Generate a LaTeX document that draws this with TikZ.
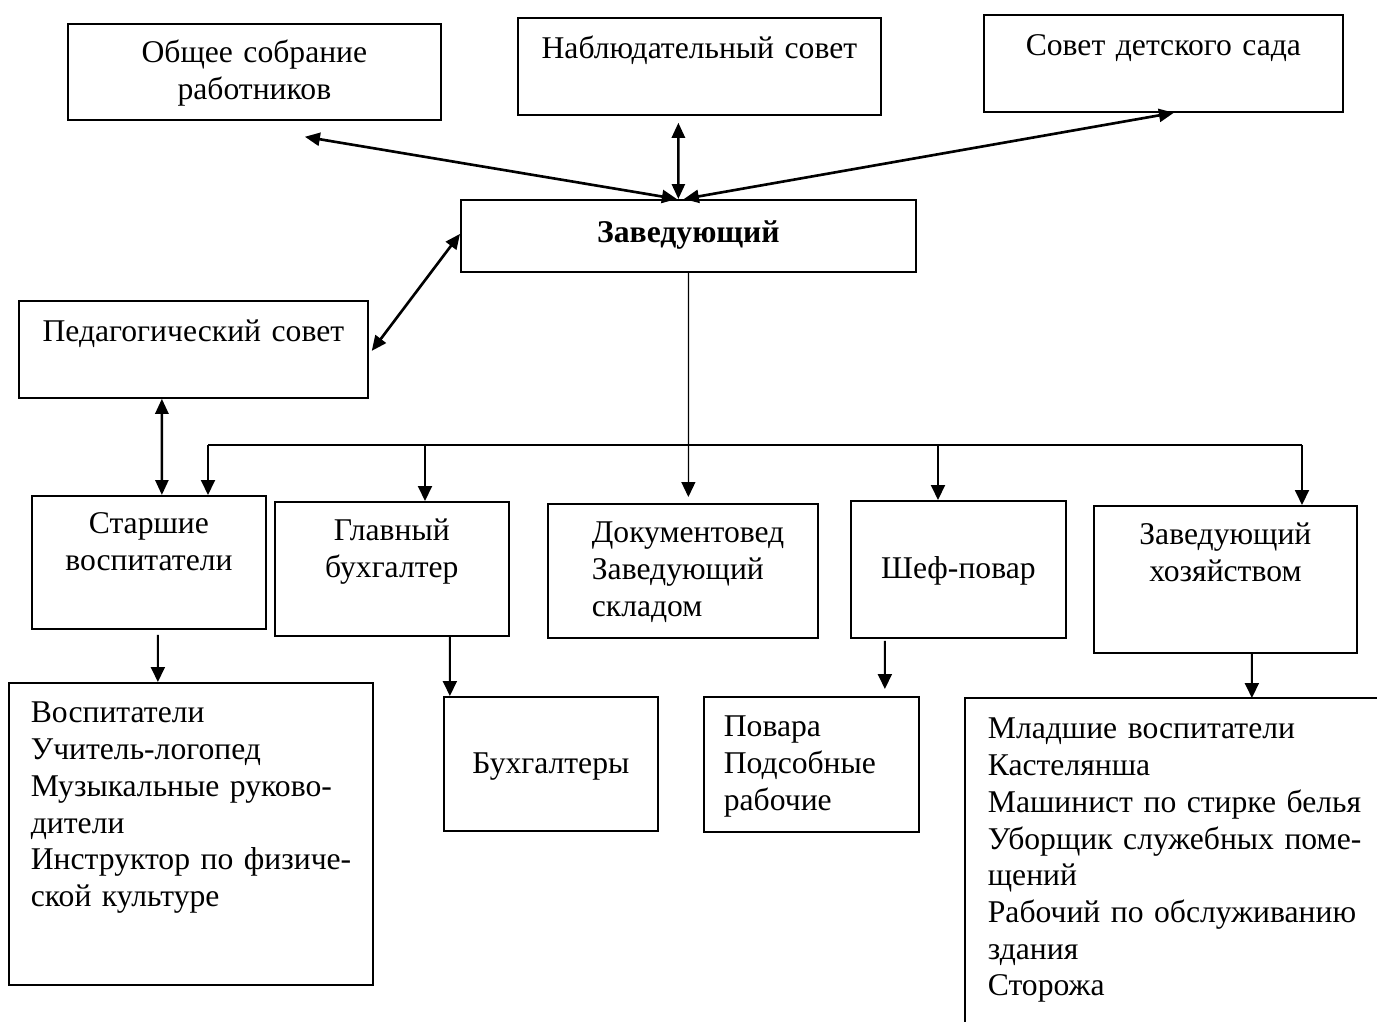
\documentclass[tikz,border=0pt]{standalone}
\usepackage{fontspec}
\setmainfont{Liberation Serif}
\usepackage{tikz}
\usetikzlibrary{arrows.meta}

\tikzset{
  blk/.style={draw, line width=1pt, inner sep=0pt, anchor=north west, align=center},
  lblk/.style={blk, align=left, inner ysep=0pt},
  arr/.style={-{Triangle[length=0.3cm,width=0.28cm]}, line width=1.1pt},
  dbl/.style={{Triangle[length=0.3cm,width=0.26cm]}-{Triangle[length=0.3cm,width=0.26cm]}, line width=1.5pt}
}

\begin{document}
\begin{tikzpicture}[font=\fontsize{18}{20.9}\selectfont]
\useasboundingbox (0,0) rectangle (27.54,-20.44);
% top row
\node[blk, text width=7.46cm, text height=0.78cm, text depth=1.14cm] (sobranie) at (1.34,-0.46) {Общее собрание\\работников};
\node[blk, text width=7.26cm, text height=0.82cm, text depth=1.12cm] (nablud) at (10.34,-0.34) {Наблюдательный совет};
\node[blk, text width=7.18cm, text height=0.82cm, text depth=1.12cm] (sovet) at (19.66,-0.28) {Совет детского сада};
\node[blk, text width=9.10cm, text height=0.86cm, text depth=0.58cm, font=\fontsize{18}{20.9}\selectfont\bfseries] (zav) at (9.20,-3.98) {Заведующий};
\node[blk, text width=6.98cm, text height=0.82cm, text depth=1.12cm] (pedsovet) at (0.36,-6.00) {Педагогический совет};
% middle row
\node[blk, text width=4.68cm, text height=0.76cm, text depth=1.90cm] (starshie) at (0.62,-9.90) {Старшие\\воспитатели};
\node[blk, text width=4.68cm, text height=0.78cm, text depth=1.90cm] (glbuh) at (5.48,-10.02) {Главный\\бухгалтер};
\node[lblk, inner xsep=0.88cm, text width=3.64cm, text height=0.78cm, text depth=1.90cm] (dokument) at (10.94,-10.06) {Документовед\\Заведующий\\складом};
\node[blk, text width=4.30cm, text height=1.56cm, text depth=1.18cm] (shef) at (17.00,-10.00) {Шеф-повар};
\node[blk, text width=5.26cm, text height=0.78cm, text depth=2.16cm] (zavhoz) at (21.86,-10.10) {Заведующий\\хозяйством};
% bottom row
\node[lblk, inner xsep=0.44cm, text width=6.40cm, text height=0.80cm, text depth=5.24cm] (vospit) at (0.16,-13.64) {Воспитатели\\\mbox{Учитель-логопед}\\\mbox{Музыкальные руково-}\\дители\\\mbox{Инструктор по физиче-}\\\mbox{ской культуре}};
\node[blk, text width=4.28cm, text height=1.54cm, text depth=1.14cm] (buhgaltery) at (8.86,-13.92) {Бухгалтеры};
\node[lblk, inner xsep=0.40cm, text width=3.50cm, text height=0.80cm, text depth=1.90cm] (povara) at (14.06,-13.92) {Повара\\Подсобные\\рабочие};
\node[lblk, draw=none, inner xsep=0.44cm, text width=7.36cm, text height=0.80cm, text depth=5.68cm] (mladshie) at (19.30,-13.96) {\mbox{Младшие воспитатели}\\Кастелянша\\\mbox{Машинист по стирке белья}\\\mbox{Уборщик служебных поме-}\\щений\\\mbox{Рабочий по обслуживанию}\\здания\\Сторожа};
\draw[line width=1pt] (mladshie.north east) -- (mladshie.north west) -- (mladshie.south west);
% links to the head
\draw[dbl] ([xshift=1.01cm,yshift=-0.32cm]sobranie.south) -- ([xshift=-0.23cm]zav.north);
\draw[dbl] ([xshift=-0.42cm,yshift=-0.14cm]nablud.south) -- ([xshift=-0.2cm]zav.north);
\draw[dbl] ([xshift=0.21cm]sovet.south) -- ([xshift=-0.09cm]zav.north);
\draw[dbl] ([xshift=0.06cm,yshift=-0.03cm]pedsovet.east) -- ([yshift=0.04cm]zav.west);
\draw[dbl] ([xshift=-0.63cm]pedsovet.south) -- ([xshift=0.26cm]starshie.north);
% bus
\coordinate (busl) at (4.16,-8.90);
\coordinate (bus2) at (8.50,-8.90);
\coordinate (bus4) at (18.76,-8.90);
\coordinate (busr) at (26.04,-8.90);
\draw[arr, line width=0.7pt] (zav.south) -- ([xshift=0.11cm,yshift=0.12cm]dokument.north);
\draw[line width=1.1pt] (busl) -- (busr);
\draw[arr] (busl) -- (busl |- starshie.north);
\draw[arr] (bus2) -- (bus2 |- glbuh.north);
\draw[arr] (bus4) -- (bus4 |- shef.north);
\draw[arr] (busr) -- (busr |- zavhoz.north);
% lower links
\draw[arr] ([xshift=0.18cm,yshift=-0.1cm]starshie.south) -- ([xshift=-0.66cm]vospit.north);
\draw[arr] ([xshift=1.16cm]glbuh.south) -- ([xshift=-2.02cm]buhgaltery.north);
\draw[arr] ([xshift=-1.47cm,yshift=-0.04cm]shef.south) -- ([xshift=1.47cm,yshift=0.14cm]povara.north);
\draw[arr] ([xshift=0.53cm]zavhoz.south) -- ([xshift=1.6cm]mladshie.north);
\end{tikzpicture}
\end{document}
